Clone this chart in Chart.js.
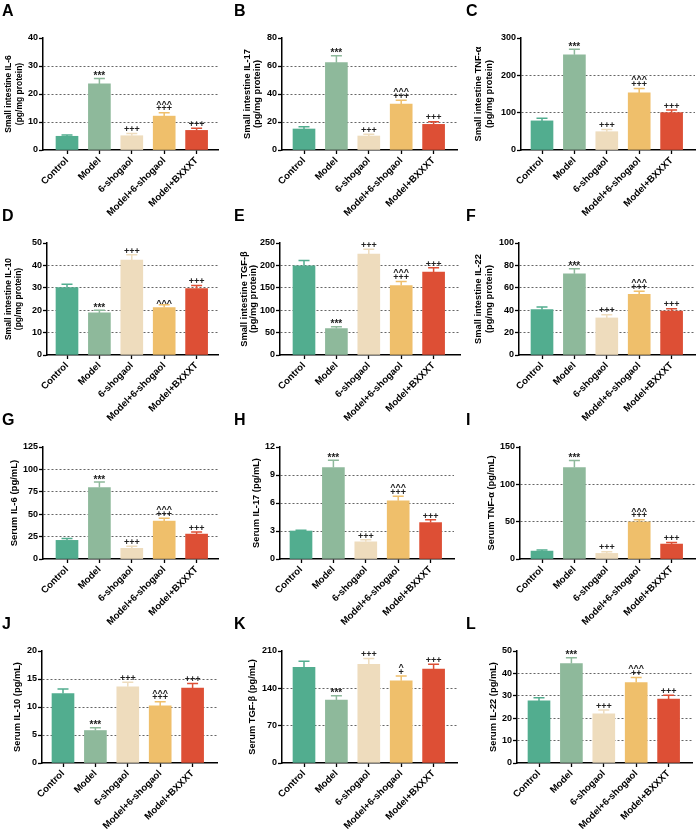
<!DOCTYPE html>
<html>
<head>
<meta charset="utf-8">
<script src="https://cdn.jsdelivr.net/npm/chart.js@4.4.1/dist/chart.umd.min.js"></script>
<style>
  body { margin: 0; background: #fff; }
  #fig { position: relative; width: 697px; height: 833px; overflow: hidden; }
  #fig canvas { position: absolute; }
  .letter { position: absolute; font: bold 16px "Liberation Sans", Arial, sans-serif; line-height: 16px; color: #000; }
</style>
</head>
<body>
<div id="fig"></div>
<script>
const groups = ['Control', 'Model', '6-shogaol', 'Model+6-shogaol', 'Model+BXXXT'];
const barColors = ['#52ad8f', '#8eb99b', '#eedcbd', '#efbf6b', '#dd4f35'];

// mean values and SEM
const il6Si = [4.9, 23.6, 5.1, 12.1, 7.0];
const il6SiErr = [0.5, 1.9, 0.8, 1.2, 0.8];
const il17Si = [15.0, 62.4, 10.0, 32.8, 18.3];
const il17SiErr = [1.6, 5.0, 1.2, 2.8, 1.9];
const tnfSi = [78, 255, 49, 153, 100];
const tnfSiErr = [7, 15, 6, 12, 7];
const il10Si = [30.1, 18.8, 42.4, 21.2, 29.7];
const il10SiErr = [1.5, 1.2, 2.3, 1.2, 1.3];
const tgfSi = [199, 59, 225, 155, 185];
const tgfSiErr = [12, 4, 11, 9, 9.5];
const il22Si = [40.5, 72.5, 33.1, 54.1, 39.2];
const il22SiErr = [2.4, 4.5, 2.9, 2.9, 2.2];
const il6Serum = [20.8, 79.7, 11.9, 42.3, 27.8];
const il6SerumErr = [2.2, 6.3, 2.2, 3.3, 2.2];
const il17Serum = [3.0, 9.8, 1.84, 6.23, 3.9];
const il17SerumErr = [0.08, 0.78, 0.21, 0.5, 0.3];
const tnfSerum = [10.6, 122.6, 7.5, 49.6, 20.0];
const tnfSerumErr = [1.4, 9.4, 2.2, 3.1, 2.0];
const il10Serum = [12.4, 5.8, 13.6, 10.2, 13.4];
const il10SerumErr = [0.8, 0.5, 0.8, 0.75, 0.8];
const tgfSerum = [179.5, 118, 185, 154, 176];
const tgfSerumErr = [11.5, 8, 11, 9, 9];
const il22Serum = [27.7, 44.4, 22.0, 35.9, 28.5];
const il22SerumErr = [1.4, 2.6, 1.7, 2.3, 1.8];

// significance marks, bottom line first
const marksFull = [[], ['***'], ['+++'], ['+++', '^^^'], ['+++']];
const marksD = [[], ['***'], ['+++'], ['^^^'], ['+++']];
const marksK = [[], ['***'], ['+++'], ['+', '^'], ['+++']];
const marksL = [[], ['***'], ['+++'], ['++', '^^^'], ['+++']];

const FONT = '"Liberation Sans", Arial, sans-serif';
const SPACING = 32.4;   // px between bar centres
const PLOT_H = 112;
const PAD_TOP = 38;
const XAXIS_H = 72;

const panels = [
  { letter: 'A', title: ['Small intestine IL-6', '(pg/mg protein)'], values: il6Si, errors: il6SiErr, max: 40, step: 10, marks: marksFull,
    x: 0, y: 0, L: 43, c0: 67, R: 218, tx: 9, ts: 8.5, lh: 1.2 },
  { letter: 'B', title: ['Small intestine IL-17', '(pg/mg protein)'], values: il17Si, errors: il17SiErr, max: 80, step: 20, marks: marksFull,
    x: 232, y: 0, L: 282, c0: 304, R: 457, tx: 15, ts: 9.3, lh: 1.15 },
  { letter: 'C', title: ['Small intestine TNF-α', '(pg/mg protein)'], values: tnfSi, errors: tnfSiErr, max: 300, step: 100, marks: marksFull,
    x: 464, y: 0, L: 521, c0: 542, R: 695, tx: 14.5, ts: 9.3, lh: 1.15 },
  { letter: 'D', title: ['Small intestine IL-10', '(pg/mg protein)'], values: il10Si, errors: il10SiErr, max: 50, step: 10, marks: marksD,
    x: 0, y: 205, L: 47, c0: 67, R: 218, tx: 8.7, ts: 8.5, lh: 1.2 },
  { letter: 'E', title: ['Small intestine TGF-β', '(pg/mg protein)'], values: tgfSi, errors: tgfSiErr, max: 250, step: 50, marks: marksFull,
    x: 232, y: 205, L: 280, c0: 304, R: 460, tx: 12, ts: 9.3, lh: 1.0 },
  { letter: 'F', title: ['Small intestine IL-22', '(pg/mg protein)'], values: il22Si, errors: il22SiErr, max: 100, step: 20, marks: marksFull,
    x: 464, y: 205, L: 519, c0: 542, R: 695, tx: 14.5, ts: 9.3, lh: 1.15 },
  { letter: 'G', title: 'Serum IL-6 (pg/mL)', values: il6Serum, errors: il6SerumErr, max: 125, step: 25, marks: marksFull,
    x: 0, y: 409, L: 43, c0: 67, R: 218, tx: 14, ts: 9.5, lh: 1.2 },
  { letter: 'H', title: 'Serum IL-17 (pg/mL)', values: il17Serum, errors: il17SerumErr, max: 12, step: 3, marks: marksFull,
    x: 232, y: 409, L: 280, c0: 301, R: 454, tx: 24, ts: 9.3, lh: 1.2 },
  { letter: 'I', title: 'Serum TNF-α (pg/mL)', values: tnfSerum, errors: tnfSerumErr, max: 150, step: 50, marks: marksFull,
    x: 464, y: 409, L: 520, c0: 542, R: 695, tx: 27, ts: 9.3, lh: 1.2 },
  { letter: 'J', title: 'Serum IL-10 (pg/mL)', values: il10Serum, errors: il10SerumErr, max: 20, step: 5, marks: marksFull,
    x: 0, y: 613, L: 42, c0: 63, R: 217, tx: 17, ts: 9.3, lh: 1.2 },
  { letter: 'K', title: 'Serum TGF-β (pg/mL)', values: tgfSerum, errors: tgfSerumErr, max: 210, step: 70, marks: marksK,
    x: 232, y: 613, L: 282, c0: 304, R: 457, tx: 20.5, ts: 9.3, lh: 1.2 },
  { letter: 'L', title: 'Serum IL-22 (pg/mL)', values: il22Serum, errors: il22SerumErr, max: 50, step: 10, marks: marksL,
    x: 464, y: 613, L: 517, c0: 539, R: 692, tx: 29.5, ts: 9.3, lh: 1.2 }
];

// baseline lift for the first mark line, relative to the top of the error bar
const firstLift = { '*': -0.6, '+': 1.3, '^': -1.6 };
const LINE_GAP = 4.8;

const errorBars = {
  id: 'errorBars',
  afterDatasetsDraw(chart, args, opts) {
    const ctx = chart.ctx;
    const yScale = chart.scales.y;
    const meta = chart.getDatasetMeta(0);
    meta.data.forEach((bar, i) => {
      const top = yScale.getPixelForValue(opts.values[i] + opts.errors[i]);
      ctx.save();
      ctx.strokeStyle = barColors[i];
      ctx.lineWidth = 1.5;
      ctx.beginPath();
      ctx.moveTo(bar.x, bar.y);
      ctx.lineTo(bar.x, top);
      ctx.moveTo(bar.x - 5.5, top);
      ctx.lineTo(bar.x + 5.5, top);
      ctx.stroke();

      ctx.fillStyle = '#222';
      ctx.textAlign = 'center';
      ctx.textBaseline = 'alphabetic';
      let base = null;
      opts.marks[i].forEach((m) => {
        base = base === null ? top - firstLift[m[0]] : base - LINE_GAP;
        ctx.font = (m[0] === '*' ? 'bold 10px ' : 'bold 9px ') + FONT;
        ctx.fillText(m, bar.x, base);
      });
      ctx.restore();
    });
  }
};

const fig = document.getElementById('fig');

panels.forEach((p) => {
  const yW = p.L - p.x;
  const xMin = -(p.c0 - p.L) / SPACING;
  const xMax = xMin + (p.R - p.L) / SPACING;
  const w = p.R - p.x + 3;
  const h = PAD_TOP + PLOT_H + XAXIS_H;

  const canvas = document.createElement('canvas');
  canvas.width = w;
  canvas.height = h;
  canvas.style.left = p.x + 'px';
  canvas.style.top = p.y + 'px';
  fig.appendChild(canvas);

  const letter = document.createElement('div');
  letter.className = 'letter';
  letter.textContent = p.letter;
  letter.style.left = (p.x + 2) + 'px';
  letter.style.top = (p.y + 3) + 'px';
  fig.appendChild(letter);

  new Chart(canvas.getContext('2d'), {
    type: 'bar',
    data: {
      datasets: [{
        data: p.values.map((v, i) => ({ x: i, y: v })),
        backgroundColor: barColors,
        borderWidth: 0,
        barThickness: 22
      }]
    },
    options: {
      responsive: false,
      animation: false,
      devicePixelRatio: 1,
      layout: { padding: { top: PAD_TOP, left: 0, right: 3, bottom: 0 } },
      plugins: {
        legend: { display: false },
        tooltip: { enabled: false },
        errorBars: { values: p.values, errors: p.errors, marks: p.marks }
      },
      scales: {
        x: {
          type: 'linear',
          min: xMin,
          max: xMax,
          offset: false,
          afterBuildTicks: (scale) => { scale.ticks = [0, 1, 2, 3, 4].map((v) => ({ value: v })); },
          afterFit: (scale) => { scale.height = XAXIS_H; },
          grid: { offset: false, drawOnChartArea: false, drawTicks: true, tickLength: 4, tickColor: '#000', tickWidth: 1.3 },
          border: { display: true, color: '#000', width: 1.5 },
          ticks: {
            autoSkip: false,
            minRotation: 45,
            maxRotation: 45,
            padding: 1,
            color: '#000',
            font: { family: FONT, size: 9.6, weight: 'bold' },
            callback: (v) => groups[v]
          }
        },
        y: {
          min: 0,
          max: p.max,
          afterFit: (scale) => { scale.width = yW; },
          grid: {
            color: (c) => (c.tick && c.tick.value > 0 && c.tick.value < p.max) ? '#666' : 'rgba(0,0,0,0)',
            lineWidth: 1,
            drawTicks: true,
            tickLength: 4,
            tickColor: '#000',
            tickWidth: 1.3
          },
          border: { display: true, color: '#000', width: 1.5, dash: [2, 2] },
          ticks: {
            stepSize: p.step,
            padding: 1,
            color: '#000',
            font: { family: FONT, size: 9, weight: 'bold' }
          },
          title: {
            display: true,
            text: p.title,
            color: '#000',
            font: { family: FONT, size: p.ts, weight: 'bold', lineHeight: p.lh },
            padding: { top: p.tx - p.ts * p.lh / 2, bottom: 0 }
          }
        }
      }
    },
    plugins: [errorBars]
  });
});
</script>
</body>
</html>
